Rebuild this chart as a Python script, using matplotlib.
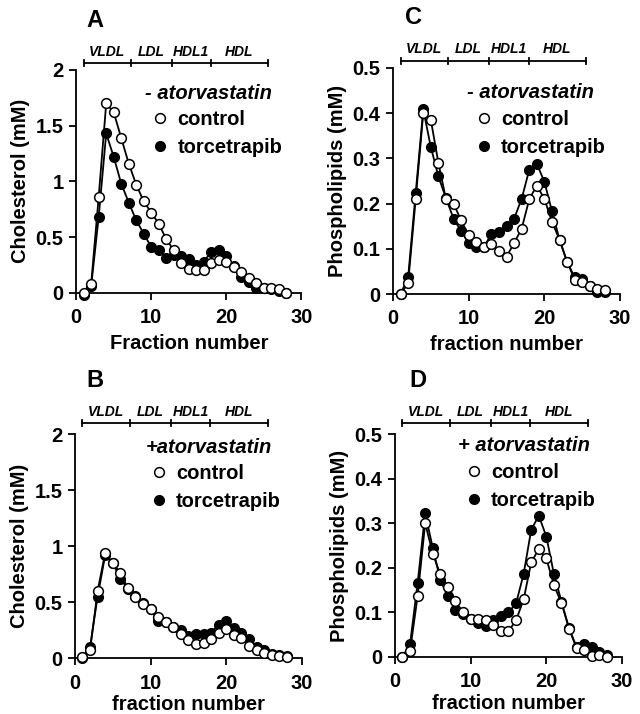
import matplotlib
matplotlib.use("Agg")
import matplotlib.pyplot as plt
import numpy as np

plt.rcParams['font.family'] = ['Liberation Sans', 'DejaVu Sans']
plt.rcParams['font.weight'] = 'bold'

fractions = np.arange(1, 29)

# A: cholesterol, - atorvastatin
chol_ctrl_minus = [0.0, 0.08, 0.86, 1.70, 1.62, 1.39, 1.16, 0.97, 0.82, 0.72, 0.62, 0.48, 0.38, 0.27,
                   0.21, 0.20, 0.20, 0.27, 0.29, 0.28, 0.23, 0.19, 0.13, 0.09, 0.04, 0.045, 0.03, 0.0]
chol_torc_minus = [-0.02, 0.06, 0.68, 1.43, 1.22, 0.98, 0.81, 0.65, 0.53, 0.41, 0.38, 0.31, 0.34, 0.33,
                   0.30, 0.25, 0.28, 0.37, 0.38, 0.33, 0.24, 0.14, 0.10, 0.04, 0.045, 0.03, 0.015, 0.0]
# B: cholesterol, + atorvastatin
chol_ctrl_plus = [0.015, 0.07, 0.60, 0.94, 0.85, 0.76, 0.625, 0.55, 0.485, 0.44, 0.37, 0.32, 0.28, 0.22,
                  0.16, 0.125, 0.135, 0.17, 0.23, 0.26, 0.21, 0.18, 0.11, 0.07, 0.045, 0.03, 0.02, 0.015]
chol_torc_plus = [0.005, 0.10, 0.55, 0.92, 0.85, 0.71, 0.62, 0.56, 0.49, 0.44, 0.33, 0.32, 0.28, 0.25,
                  0.20, 0.22, 0.22, 0.23, 0.30, 0.33, 0.27, 0.23, 0.17, 0.10, 0.07, 0.04, 0.03, 0.02]
# C: phospholipids, - atorvastatin
pl_ctrl_minus = [0.0, 0.024, 0.21, 0.40, 0.385, 0.29, 0.21, 0.20, 0.163, 0.13, 0.115, 0.104, 0.111, 0.096,
                 0.083, 0.113, 0.145, 0.21, 0.24, 0.21, 0.16, 0.12, 0.071, 0.032, 0.026, 0.018, 0.012, 0.01]
pl_torc_minus = [0.0, 0.037, 0.223, 0.408, 0.325, 0.26, 0.212, 0.167, 0.139, 0.113, 0.104, 0.104, 0.133, 0.137,
                 0.15, 0.167, 0.211, 0.275, 0.288, 0.248, 0.183, 0.12, 0.071, 0.037, 0.033, 0.019, 0.004, 0.004]
# D: phospholipids, + atorvastatin
pl_ctrl_plus = [0.0, 0.013, 0.136, 0.30, 0.232, 0.185, 0.157, 0.125, 0.10, 0.086, 0.084, 0.082, 0.071, 0.058,
                0.058, 0.082, 0.129, 0.212, 0.242, 0.221, 0.161, 0.121, 0.063, 0.019, 0.016, 0.002, 0.004, 0.0]
pl_torc_plus = [0.0, 0.028, 0.165, 0.322, 0.245, 0.172, 0.136, 0.105, 0.097, 0.086, 0.076, 0.07, 0.082, 0.092,
                0.10, 0.12, 0.186, 0.285, 0.317, 0.27, 0.186, 0.124, 0.064, 0.022, 0.028, 0.022, 0.011, 0.004]

band_edges = [1.0, 7.3, 12.7, 17.9, 25.5]
band_names = ['VLDL', 'LDL', 'HDL1', 'HDL']

fig = plt.figure(figsize=(6.4, 7.14), dpi=100)

panels = [
    # letter, rect, ctrl, torc, ymax, yticks, ylabel, xlabel, title
    ('A', [0.119, 0.590, 0.352, 0.312], chol_ctrl_minus, chol_torc_minus, 2.0,
     [0, 0.5, 1, 1.5, 2], 'Cholesterol (mM)', 'Fraction number', '- atorvastatin'),
    ('C', [0.614, 0.588, 0.355, 0.317], pl_ctrl_minus, pl_torc_minus, 0.5,
     [0, 0.1, 0.2, 0.3, 0.4, 0.5], 'Phospholipids (mM)', 'fraction number', '- atorvastatin'),
    ('B', [0.117, 0.078, 0.355, 0.314], chol_ctrl_plus, chol_torc_plus, 2.0,
     [0, 0.5, 1, 1.5, 2], 'Cholesterol (mM)', 'fraction number', '+atorvastatin'),
    ('D', [0.617, 0.080, 0.355, 0.312], pl_ctrl_plus, pl_torc_plus, 0.5,
     [0, 0.1, 0.2, 0.3, 0.4, 0.5], 'Phospholipids (mM)', 'fraction number', '+ atorvastatin'),
]
# layout helpers (axes fractions): letter pos, title pos, legend anchor, bracket height
letter_pos = {'A': (0.044, 1.224), 'C': (0.053, 1.221), 'B': (0.05, 1.241), 'D': (0.062, 1.242)}
title_pos = {'A': (0.307, 0.893), 'C': (0.326, 0.89), 'B': (0.313, 0.94), 'D': (0.278, 0.947)}
legend_pos = {'A': (0.373, 0.821), 'C': (0.40, 0.814), 'B': (0.37, 0.866), 'D': (0.348, 0.870)}
bar_pos = {'A': 1.031, 'C': 1.031, 'B': 1.049, 'D': 1.049}
xlabel_pad = {'A': 5, 'C': 5, 'B': 2, 'D': 2}

FS = 14.5

for letter, rect, ctrl, torc, ymax, yticks, ylabel, xlabel, title in panels:
    ax = fig.add_axes(rect)
    ax.plot(fractions, torc, '-o', color='black', lw=1.3, ms=7,
            mfc='black', mec='black', label='torcetrapib', zorder=3, clip_on=False)
    ax.plot(fractions, ctrl, '-o', color='black', lw=1.3, ms=7,
            mfc='white', mec='black', mew=1.1, label='control', zorder=4, clip_on=False)
    ax.set_xlim(0, 30)
    ax.set_ylim(0, ymax)
    ax.set_xticks([0, 10, 20, 30])
    ax.set_yticks(yticks)
    ax.set_yticklabels([('%g' % t) for t in yticks])
    for s in ['top', 'right']:
        ax.spines[s].set_visible(False)
    for s in ['left', 'bottom']:
        ax.spines[s].set_linewidth(1.3)
    ax.tick_params(direction='out', length=5, width=1.3, labelsize=FS, pad=4)
    ax.tick_params(axis='x', pad=6)
    for lbl in ax.get_xticklabels() + ax.get_yticklabels():
        lbl.set_fontweight('bold')
    ax.set_xlabel(xlabel, fontsize=FS, fontweight='bold', labelpad=xlabel_pad[letter])
    ax.set_ylabel(ylabel, fontsize=FS, fontweight='bold', labelpad=4)

    handles, labels = ax.get_legend_handles_labels()
    leg = ax.legend(handles[::-1], labels[::-1], frameon=False,
                    loc='upper left', bbox_to_anchor=legend_pos[letter],
                    handlelength=0, handletextpad=0.85, labelspacing=0.45,
                    prop={'size': FS, 'weight': 'bold'}, borderaxespad=0,
                    borderpad=0)
    for h in leg.legend_handles:
        h.set_linestyle('None')
    tx, ty = title_pos[letter]
    ax.text(tx, ty, title, transform=ax.transAxes, fontsize=FS, fontweight='bold',
            fontstyle='italic', ha='left', va='center')

    # lipoprotein class bracket above the plot
    bar_y = bar_pos[letter]
    trans = ax.get_xaxis_transform()
    ax.plot([band_edges[0], band_edges[-1]], [bar_y, bar_y], color='black', lw=1.3,
            transform=trans, clip_on=False)
    for e in band_edges:
        ax.plot([e, e], [bar_y - 0.014, bar_y + 0.014], color='black', lw=1.3,
                transform=trans, clip_on=False)
    for i, name in enumerate(band_names):
        ax.text((band_edges[i] + band_edges[i + 1]) / 2, bar_y + 0.02, name,
                transform=trans, ha='center', va='bottom', fontsize=10,
                fontweight='bold', fontstyle='italic')

    lx, ly = letter_pos[letter]
    ax.text(lx, ly, letter, transform=ax.transAxes, fontsize=17,
            fontweight='bold', ha='left', va='center')

fig.savefig('out.png', dpi=100)
